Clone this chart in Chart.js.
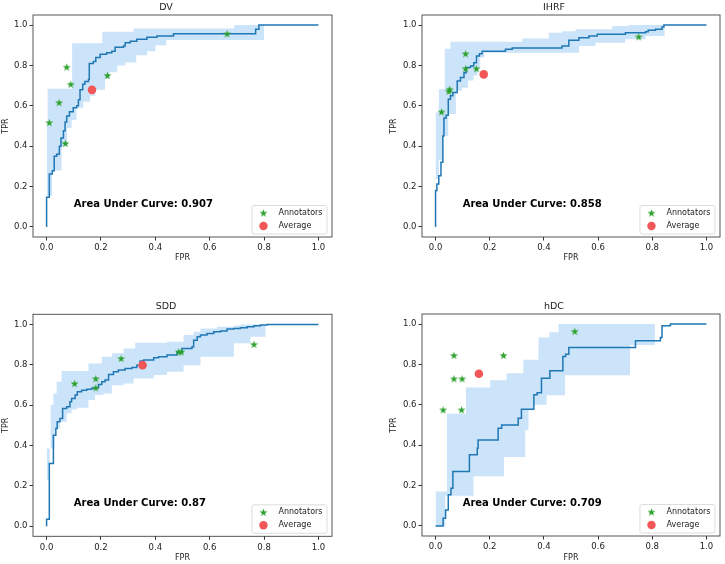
<!DOCTYPE html>
<html>
<head>
<meta charset="utf-8">
<script src="https://cdn.jsdelivr.net/npm/chart.js@4.4.0/dist/chart.umd.min.js"></script>
<style>
  body { margin: 0; background: #fff; width: 725px; height: 564px; position: relative; overflow: hidden; }
  canvas { position: absolute; }
</style>
</head>
<body>
<canvas id="dv" width="362" height="282" style="left:0;top:0"></canvas>
<canvas id="ihrf" width="363" height="282" style="left:362px;top:0"></canvas>
<canvas id="sdd" width="362" height="282" style="left:0;top:282px"></canvas>
<canvas id="hdc" width="363" height="282" style="left:362px;top:282px"></canvas>
<script>
// ticks shared by every panel
const xTicks = [0, 0.2, 0.4, 0.6, 0.8, 1.0];
const yTicks = [0, 0.2, 0.4, 0.6, 0.8, 1.0];

// [fpr, tpr] : horizontal to fpr, then up to tpr
const dvCurve = [[0,0],[0,0.147],[0.01,0.262],[0.021,0.278],[0.028,0.35],[0.037,0.36],[0.047,0.40],[0.053,0.44],[0.062,0.476],[0.068,0.52],[0.074,0.55],[0.084,0.57],[0.098,0.59],[0.111,0.6],[0.117,0.63],[0.123,0.68],[0.133,0.707],[0.141,0.72],[0.154,0.73],[0.157,0.81],[0.172,0.82],[0.181,0.84],[0.197,0.855],[0.221,0.863],[0.24,0.87],[0.252,0.89],[0.283,0.896],[0.289,0.913],[0.308,0.92],[0.332,0.93],[0.369,0.94],[0.406,0.946],[0.467,0.957],[0.769,0.98],[0.781,1.0],[1.0,1.0]];
const dvUpper = [[0,0.5],[0.004,0.685],[0.094,0.91],[0.205,0.967],[0.32,0.983],[0.69,1.0],[0.8,1.0]];
const dvLower = [[0,0.155],[0.02,0.28],[0.055,0.4],[0.075,0.49],[0.092,0.53],[0.11,0.59],[0.135,0.62],[0.16,0.65],[0.18,0.68],[0.215,0.733],[0.23,0.766],[0.26,0.8],[0.29,0.815],[0.33,0.85],[0.37,0.87],[0.4,0.9],[0.44,0.926],[0.8,0.926]];
const dvAnnotators = [[0.01,0.517],[0.046,0.616],[0.074,0.792],[0.089,0.707],[0.069,0.414],[0.224,0.751],[0.664,0.957]];
const dvAverage = [[0.167,0.679]];

const ihrfCurve = [[0,0],[0,0.18],[0.005,0.213],[0.012,0.254],[0.02,0.32],[0.027,0.45],[0.031,0.54],[0.039,0.553],[0.047,0.633],[0.055,0.65],[0.064,0.666],[0.08,0.723],[0.092,0.74],[0.105,0.764],[0.113,0.79],[0.129,0.797],[0.141,0.814],[0.151,0.847],[0.162,0.858],[0.172,0.87],[0.258,0.88],[0.283,0.886],[0.467,0.896],[0.492,0.925],[0.529,0.937],[0.566,0.946],[0.597,0.954],[0.701,0.962],[0.775,0.967],[0.785,0.975],[0.812,0.98],[0.836,0.99],[0.843,1.0],[1.0,1.0]];
const ihrfUpper = [[0,0.567],[0.012,0.682],[0.034,0.883],[0.055,0.918],[0.32,0.934],[0.418,0.962],[0.467,0.97],[0.517,0.98],[0.652,0.995],[0.713,1.0],[0.846,1.0]];
const ihrfLower = [[0,0.237],[0.012,0.33],[0.025,0.45],[0.047,0.56],[0.075,0.675],[0.097,0.69],[0.12,0.725],[0.14,0.75],[0.155,0.79],[0.165,0.84],[0.18,0.863],[0.53,0.896],[0.59,0.913],[0.7,0.93],[0.775,0.946],[0.846,0.946]];
const ihrfAnnotators = [[0.022,0.57],[0.052,0.682],[0.049,0.672],[0.111,0.858],[0.111,0.784],[0.151,0.784],[0.75,0.942]];
const ihrfAverage = [[0.178,0.756]];

const sddCurve = [[0,0],[0,0.035],[0.01,0.311],[0.025,0.451],[0.034,0.484],[0.039,0.517],[0.049,0.534],[0.059,0.583],[0.074,0.592],[0.086,0.617],[0.092,0.633],[0.105,0.65],[0.113,0.666],[0.129,0.674],[0.148,0.679],[0.166,0.683],[0.178,0.686],[0.191,0.702],[0.203,0.716],[0.215,0.724],[0.228,0.752],[0.246,0.765],[0.264,0.774],[0.289,0.782],[0.314,0.787],[0.332,0.798],[0.344,0.818],[0.357,0.823],[0.394,0.835],[0.412,0.84],[0.443,0.848],[0.48,0.864],[0.498,0.881],[0.535,0.889],[0.541,0.922],[0.554,0.939],[0.566,0.947],[0.59,0.955],[0.615,0.964],[0.64,0.967],[0.664,0.977],[0.689,0.98],[0.713,0.983],[0.738,0.988],[0.763,0.993],[0.787,0.997],[0.812,1.0],[1.0,1.0]];
const sddUpper = [[0,0.385],[0.015,0.6],[0.025,0.658],[0.037,0.716],[0.055,0.769],[0.154,0.806],[0.203,0.84],[0.24,0.857],[0.283,0.88],[0.326,0.909],[0.443,0.914],[0.504,0.947],[0.541,0.964],[0.566,0.98],[0.627,0.988],[0.69,0.995],[0.713,1.0],[0.806,1.0]];
const sddLower = [[0,0.228],[0.012,0.385],[0.03,0.484],[0.049,0.517],[0.074,0.56],[0.092,0.578],[0.111,0.587],[0.154,0.625],[0.178,0.65],[0.209,0.658],[0.24,0.699],[0.283,0.707],[0.32,0.732],[0.394,0.749],[0.443,0.765],[0.504,0.798],[0.566,0.84],[0.689,0.906],[0.75,0.939],[0.806,0.964]];
const sddAnnotators = [[0.103,0.707],[0.181,0.731],[0.181,0.686],[0.274,0.831],[0.486,0.864],[0.496,0.864],[0.763,0.901]];
const sddAverage = [[0.353,0.798]];

const hdcCurve = [[0,0],[0.028,0],[0.028,0.038],[0.037,0.079],[0.047,0.154],[0.057,0.187],[0.064,0.269],[0.125,0.352],[0.154,0.385],[0.157,0.426],[0.231,0.484],[0.244,0.5],[0.305,0.534],[0.317,0.578],[0.363,0.65],[0.375,0.66],[0.391,0.732],[0.422,0.769],[0.47,0.84],[0.48,0.851],[0.492,0.884],[0.738,0.917],[0.83,0.934],[0.836,0.992],[0.867,1.0],[1.0,1.0]];
const hdcUpper = [[0,0.17],[0.042,0.556],[0.112,0.686],[0.202,0.722],[0.262,0.757],[0.324,0.823],[0.38,0.934],[0.42,0.96],[0.454,1.0],[0.81,1.0]];
const hdcLower = [[0,0],[0.036,0.15],[0.14,0.246],[0.253,0.342],[0.331,0.474],[0.343,0.573],[0.36,0.6],[0.41,0.648],[0.478,0.747],[0.718,0.896],[0.81,0.896]];
const hdcAnnotators = [[0.028,0.575],[0.068,0.845],[0.068,0.729],[0.098,0.729],[0.096,0.575],[0.251,0.845],[0.514,0.964]];
const hdcAverage = [[0.16,0.754]];

const FONT = '"DejaVu Sans", sans-serif';
const lineColor = '#1f77b4';
const bandColor = '#cce4f9';
const starColor = '#2ca02c';
const avgColor = '#f25757';
const textColor = '#222';

function pts(pairs) {
  return pairs.map(p => ({ x: p[0], y: p[1] }));
}

// matplotlib-like filled star marker
function makeStar(r, color) {
  const c = document.createElement('canvas');
  const s = Math.ceil(r * 2 + 2);
  c.width = s; c.height = s;
  const g = c.getContext('2d');
  g.beginPath();
  for (let i = 0; i < 10; i++) {
    const a = -Math.PI / 2 + i * Math.PI / 5;
    const rad = i % 2 ? r * 0.382 : r;
    const px = s / 2 + rad * Math.cos(a);
    const py = s / 2 + rad * Math.sin(a) + r * 0.1;
    if (i === 0) g.moveTo(px, py); else g.lineTo(px, py);
  }
  g.closePath();
  g.fillStyle = color;
  g.fill();
  return c;
}
const starImg = makeStar(4.2, starColor);

function decorPlugin(auc) {
  return {
    id: 'decor',
    afterDatasetsDraw(chart) {
      const { ctx, chartArea: a, scales } = chart;
      ctx.save();
      // frame
      ctx.strokeStyle = '#444';
      ctx.lineWidth = 0.9;
      ctx.strokeRect(a.left, a.top, a.right - a.left, a.bottom - a.top);
      // AUC text at data (0.1, 0.1)
      ctx.fillStyle = '#000';
      ctx.font = 'bold 10px ' + FONT;
      ctx.textAlign = 'left';
      ctx.textBaseline = 'alphabetic';
      ctx.fillText('Area Under Curve: ' + auc, scales.x.getPixelForValue(0.1), scales.y.getPixelForValue(0.1));
      // legend, lower right
      ctx.font = '8px ' + FONT;
      const tw = ctx.measureText('Annotators').width;
      const w = 26.5 + tw + 4.5, h = 28.5;
      const x = a.right - 5 - w, y = a.bottom - 3 - h;
      ctx.beginPath();
      ctx.roundRect(x, y, w, h, 2);
      ctx.fillStyle = 'rgba(255,255,255,0.85)';
      ctx.fill();
      ctx.strokeStyle = '#d4d4d4';
      ctx.lineWidth = 0.8;
      ctx.stroke();
      ctx.drawImage(starImg, x + 11.5 - starImg.width / 2, y + 7.5 - starImg.height / 2);
      ctx.beginPath();
      ctx.arc(x + 11.5, y + 20.5, 4.2, 0, Math.PI * 2);
      ctx.fillStyle = avgColor;
      ctx.fill();
      ctx.fillStyle = textColor;
      ctx.textBaseline = 'middle';
      ctx.fillText('Annotators', x + 26.5, y + 7.5);
      ctx.fillText('Average', x + 26.5, y + 20.5);
      ctx.restore();
    }
  };
}

function makePanel(id, title, auc, curve, upper, lower, annotators, average, box) {
  const canvas = document.getElementById(id);
  const W = canvas.width, H = canvas.height;
  const titleBlock = 15;
  new Chart(canvas, {
    type: 'scatter',
    data: {
      datasets: [
        { data: pts(upper), showLine: true, stepped: true, pointRadius: 0, borderWidth: 0, borderColor: 'rgba(0,0,0,0)', fill: false, order: 4 },
        { data: pts(lower), showLine: true, stepped: true, pointRadius: 0, borderWidth: 0, borderColor: 'rgba(0,0,0,0)', backgroundColor: bandColor, fill: 0, order: 4 },
        { data: pts(curve), showLine: true, stepped: true, pointRadius: 0, borderWidth: 1.5, borderColor: lineColor, fill: false, order: 2 },
        { data: pts(annotators), pointStyle: starImg, pointRadius: 4, order: 1 },
        { data: pts(average), pointStyle: 'circle', pointRadius: 4.3, backgroundColor: avgColor, borderWidth: 0, order: 0 }
      ]
    },
    options: {
      responsive: false,
      animation: false,
      devicePixelRatio: 1,
      events: [],
      layout: { padding: { left: box.padL, right: W - box.right, top: box.top - titleBlock, bottom: 0 } },
      plugins: {
        legend: { display: false },
        tooltip: { enabled: false },
        title: {
          display: true, text: title, color: textColor,
          font: { family: FONT, size: 9.5, weight: 'normal', lineHeight: 1.2 },
          padding: { top: 1.8, bottom: 1.8 }
        }
      },
      scales: {
        x: {
          type: 'linear', min: -0.05, max: 1.05,
          afterBuildTicks: axis => { axis.ticks = xTicks.map(v => ({ value: v })); },
          afterFit: axis => { axis.height = H - box.bottom; },
          ticks: { callback: v => v.toFixed(1), color: textColor, font: { family: FONT, size: 8.5 }, padding: 2.5, maxRotation: 0, autoSkip: false },
          grid: { drawOnChartArea: false, drawTicks: true, tickLength: 3.5, color: '#333' },
          border: { display: false },
          title: { display: true, text: 'FPR', color: textColor, font: { family: FONT, size: 8, lineHeight: 1.2 }, padding: { top: 0, bottom: box.xTitlePad } }
        },
        y: {
          type: 'linear', min: -0.05, max: 1.05,
          afterBuildTicks: axis => { axis.ticks = yTicks.map(v => ({ value: v })); },
          afterFit: axis => { axis.width = box.left - box.padL; },
          ticks: { callback: v => v.toFixed(1), color: textColor, font: { family: FONT, size: 8.5 }, padding: 2, autoSkip: false },
          grid: { drawOnChartArea: false, drawTicks: true, tickLength: 3.5, color: '#333' },
          border: { display: false },
          title: { display: true, text: 'TPR', color: textColor, font: { family: FONT, size: 8, lineHeight: 1.2 }, padding: { top: 1.2, bottom: 0 } }
        }
      }
    },
    plugins: [decorPlugin(auc)]
  });
}

makePanel('dv', 'DV', '0.907', dvCurve, dvUpper, dvLower, dvAnnotators, dvAverage,
  { left: 33, top: 15, right: 332, bottom: 237, padL: 0, xTitlePad: 18.9 });
makePanel('ihrf', 'IHRF', '0.858', ihrfCurve, ihrfUpper, ihrfLower, ihrfAnnotators, ihrfAverage,
  { left: 60, top: 15, right: 358, bottom: 237, padL: 26, xTitlePad: 18.9 });
makePanel('sdd', 'SDD', '0.87', sddCurve, sddUpper, sddLower, sddAnnotators, sddAverage,
  { left: 33, top: 32.3, right: 332, bottom: 254.3, padL: 0, xTitlePad: 1.2 });
makePanel('hdc', 'hDC', '0.709', hdcCurve, hdcUpper, hdcLower, hdcAnnotators, hdcAverage,
  { left: 60, top: 32, right: 358, bottom: 254, padL: 26, xTitlePad: 1.2 });
</script>
</body>
</html>
